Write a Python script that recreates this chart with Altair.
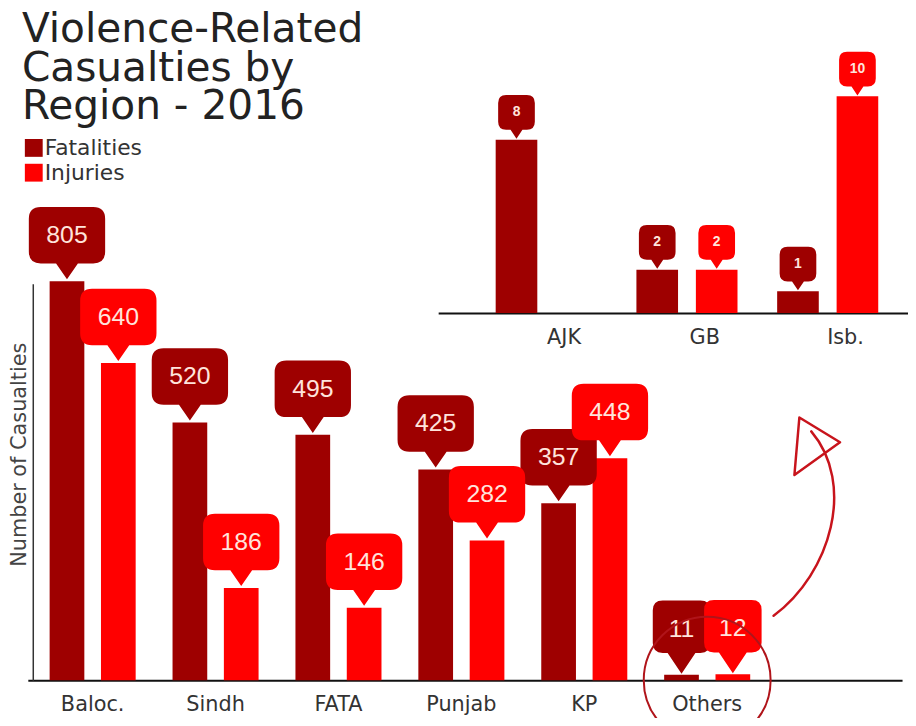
import altair as alt
import pandas as pd

# ---------------- data ----------------
regions = ["Baloc.", "Sindh", "FATA", "Punjab", "KP", "Others"]
fatalities = [805, 520, 495, 425, 357, 11]
injuries = [640, 186, 146, 282, 448, 12]

inset_regions = ["AJK", "GB", "Isb."]
inset_fatalities = [8, 2, 1]
inset_injuries = [0, 2, 10]

series = ["Fatalities", "Injuries"]
title_lines = ["Violence-Related", "Casualties by", "Region - 2016"]
y_title = "Number of Casualties"
circled_region = ["Others"]
circled_value = [0]

# ---------------- styles ----------------
DARK = "#9E0000"
RED = "#FF0000"
LABEL_TXT = "#FFE4DC"
CIRCLE = "#B0141A"
ARROW = "#C8141C"
FONT = "DejaVu Sans"
NUMFONT = "Liberation Sans"


def long(regs, f, i):
    rows = []
    for s, vals in zip(series, (f, i)):
        for r, v in zip(regs, vals):
            rows.append({"Region": r, "Series": s, "Value": v})
    return pd.DataFrame(rows)


main_df = long(regions, fatalities, injuries)
inset_df = long(inset_regions, inset_fatalities, inset_injuries)
circle_df = pd.DataFrame({"Region": circled_region, "Value": circled_value})


def callout(hw, top, bottom, r, pw, tip):
    return (
        f"M {-hw + r} {top} L {hw - r} {top} Q {hw} {top} {hw} {top + r} "
        f"L {hw} {bottom - r} Q {hw} {bottom} {hw - r} {bottom} L {pw} {bottom} "
        f"L 0 {tip} L {-pw} {bottom} L {-hw + r} {bottom} Q {-hw} {bottom} {-hw} {bottom - r} "
        f"L {-hw} {top + r} Q {-hw} {top} {-hw + r} {top} Z"
    )


MAIN_CALLOUT = callout(38.5, -75, -18, 12, 11, -2)
OTHERS_CALLOUT = callout(29, -75, -22, 10, 14, -1)
INSET_CALLOUT = callout(18.5, -45, -10, 8, 6, -1)
ARROW_PATH = (
    "M 67 -65 C 125 -108 150 -198 105 -251 "
    "M 93 -265 L 134 -240 L 88 -207 Z"
)

color = alt.Color(
    "Series:N",
    sort=series,
    scale=alt.Scale(domain=series, range=[DARK, RED]),
    legend=alt.Legend(
        title=None, orient="none", legendX=-10, legendY=127,
        symbolType="square", symbolSize=324, symbolStrokeWidth=0,
        symbolOpacity=1, labelFont=FONT, labelFontSize=22,
        labelColor="#333", labelOffset=0, rowPadding=3, padding=0,
    ),
)

# ---------------- main chart ----------------
x_main = alt.X(
    "Region:N", sort=regions,
    scale=alt.Scale(domain=regions, range=[-5, 877], paddingInner=0.3,
                    paddingOuter=0.7065, align=0.1256),
    axis=alt.Axis(title=None, labelAngle=0, ticks=False, grid=False,
                  domainColor="#111", domainWidth=2, labelFont=FONT,
                  labelFontSize=21, labelColor="#333", labelPadding=14),
)
xo_main = alt.XOffset(
    "Series:N", sort=series,
    scale=alt.Scale(domain=series, paddingInner=0.324, paddingOuter=0),
)
y_main = alt.Y(
    "Value:Q",
    scale=alt.Scale(domain=[0, 800], range=[675, 275], nice=False, zero=True),
    axis=alt.Axis(title=y_title, labels=False, ticks=False, grid=False,
                  domainColor="#333", domainWidth=1.5, titleFont=FONT,
                  titleFontSize=21, titleFontWeight="normal",
                  titleColor="#444", titlePadding=3, titleY=447),
)

main_base = alt.Chart(main_df)
bars = main_base.mark_bar(strokeWidth=0).encode(x=x_main, xOffset=xo_main, y=y_main, color=color)
calls = main_base.transform_filter("datum.Region != 'Others'").mark_point(
    shape=MAIN_CALLOUT, size=4, filled=True, opacity=1, strokeWidth=0
).encode(x=x_main, xOffset=xo_main, y=y_main, color=color)
calls_o = main_base.transform_filter("datum.Region == 'Others'").mark_point(
    shape=OTHERS_CALLOUT, size=4, filled=True, opacity=1, strokeWidth=0
).encode(x=x_main, xOffset=xo_main, y=y_main, color=color)
texts = main_base.mark_text(
    dy=-46.5, baseline="middle", align="center", font=NUMFONT,
    fontSize=25, color=LABEL_TXT
).encode(x=x_main, xOffset=xo_main, y=y_main, text="Value:Q")

circ_base = alt.Chart(circle_df)
circle = circ_base.mark_point(
    shape="circle", size=16384, filled=False, stroke=CIRCLE,
    strokeWidth=2, opacity=1
).encode(x=x_main, y=y_main)
arrow = circ_base.mark_point(
    shape=ARROW_PATH, size=4, filled=False, stroke=ARROW, strokeWidth=2.5,
    opacity=1, strokeJoin="round", strokeCap="round"
).encode(x=x_main, y=y_main)

main = alt.layer(bars, calls, calls_o, texts, circle, arrow)

# ---------------- inset chart ----------------
x_in = alt.X(
    "Region:N", sort=inset_regions,
    scale=alt.Scale(domain=inset_regions, range=[409, 883], paddingInner=0.2817,
                    paddingOuter=0.31, align=0.659),
    axis=alt.Axis(orient="bottom", offset=-370.5, title=None, labelAngle=0,
                  ticks=False, grid=False, domainColor="#111", domainWidth=2,
                  labelFont=FONT, labelFontSize=21, labelColor="#333",
                  labelPadding=14, labelOffset=18),
)
xo_in = alt.XOffset(
    "Series:N", sort=series,
    scale=alt.Scale(domain=series, paddingInner=0.3, paddingOuter=0),
)
y_in = alt.Y(
    "Value:Q",
    scale=alt.Scale(domain=[0, 10], range=[304.5, 86], nice=False, zero=True),
    axis=None,
)

in_base = alt.Chart(inset_df)
in_bars = in_base.mark_bar(strokeWidth=0).encode(x=x_in, xOffset=xo_in, y=y_in, color=color)
in_calls = in_base.transform_filter("datum.Value > 0").mark_point(
    shape=INSET_CALLOUT, size=4, filled=True, opacity=1, strokeWidth=0
).encode(x=x_in, xOffset=xo_in, y=y_in, color=color)
in_texts = in_base.transform_filter("datum.Value > 0").mark_text(
    dy=-27.5, baseline="middle", align="center", font=NUMFONT,
    fontSize=14, fontWeight="bold", color=LABEL_TXT
).encode(x=x_in, xOffset=xo_in, y=y_in, text="Value:Q")

inset = alt.layer(in_bars, in_calls, in_texts)

# ---------------- title ----------------
title = alt.Chart(alt.Data(values=[{}])).mark_text(
    text=title_lines, align="left", baseline="alphabetic", font=FONT,
    fontSize=41, lineHeight=39, color="#222"
).encode(x=alt.value(-11), y=alt.value(31))

chart = (
    alt.layer(main, inset, title)
    .resolve_scale(x="independent", y="independent", xOffset="independent")
    .resolve_axis(x="independent", y="independent")
    .properties(
        width=883, height=675,
        padding={"left": 25, "top": 0, "right": 0, "bottom": 35},
        autosize=alt.AutoSizeParams(type="none"),
        background="white",
    )
    .configure_view(stroke=None)
)

chart.save("out.html", embed_options={"renderer": "svg", "actions": False})
